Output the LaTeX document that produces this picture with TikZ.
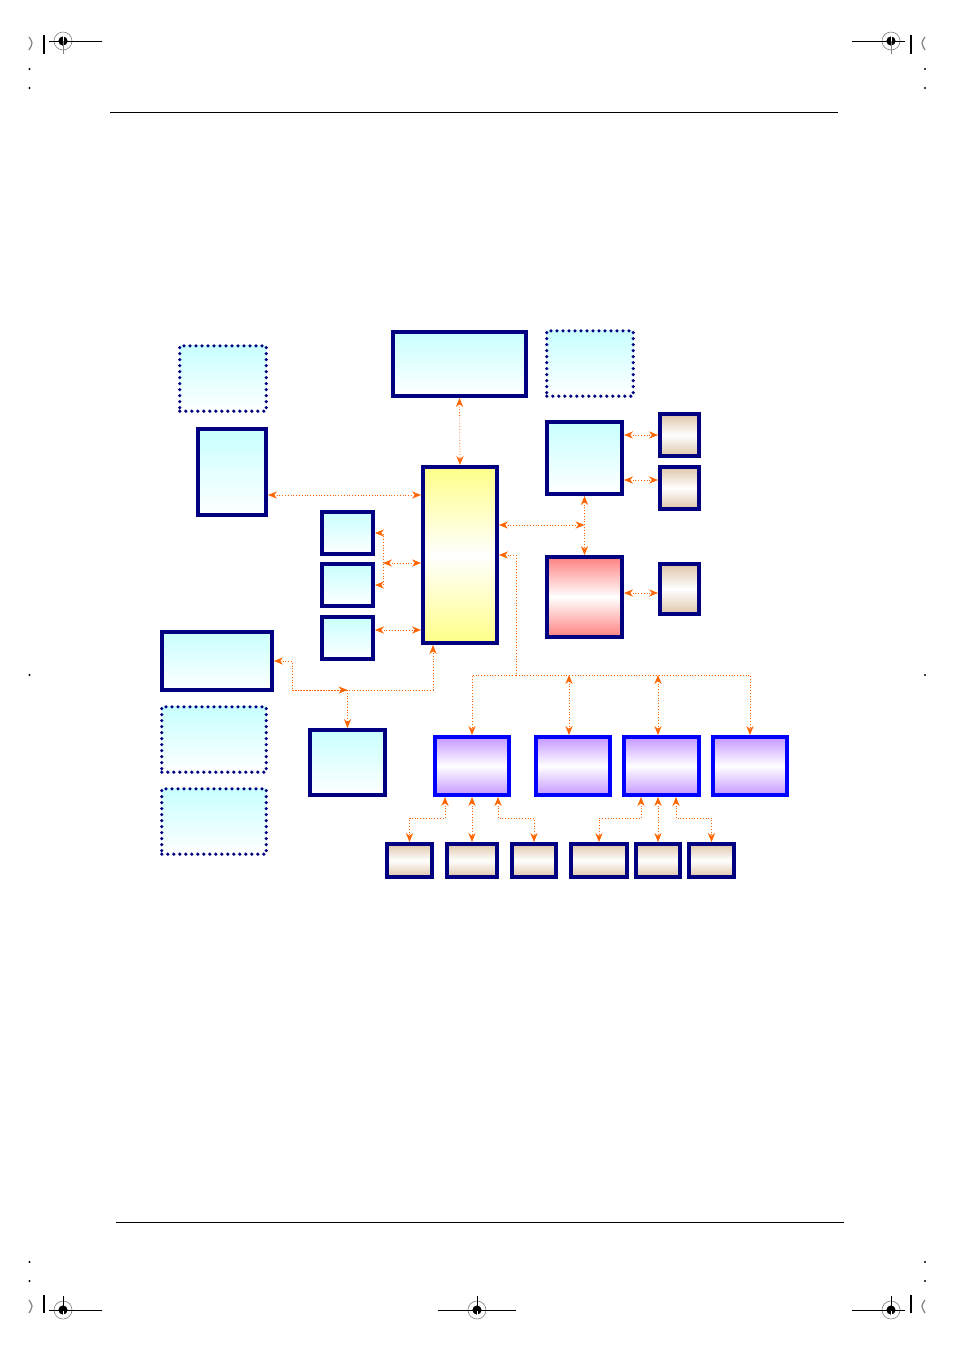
\documentclass[tikz,border=0pt]{standalone}
\usetikzlibrary{arrows.meta}

\definecolor{navy}{RGB}{0,0,128}
\definecolor{cyantop}{RGB}{200,255,255}
\definecolor{yeltop}{RGB}{255,255,136}
\definecolor{pinktop}{RGB}{255,128,128}
\definecolor{tantop}{RGB}{222,196,168}
\definecolor{purtop}{RGB}{196,150,255}
\definecolor{linkor}{RGB}{255,102,0}

\begin{document}
\begin{tikzpicture}[x=0.5pt,y=-0.5pt,
  >={Stealth[length=4.5pt,width=3.6pt]},
  sz/.style 2 args={minimum width=#1*0.5pt-1.8pt,minimum height=#2*0.5pt-1.8pt},
  box/.style={draw=navy,line width=1.8pt,inner sep=0pt},
  cyanbox/.style={box,top color=cyantop,bottom color=white},
  dotbox/.style={cyanbox,dash pattern=on 0pt off 3pt,line cap=round},
  yelbox/.style={box,top color=yeltop,bottom color=yeltop,middle color=white},
  pinkbox/.style={box,top color=pinktop,bottom color=pinktop,middle color=white},
  tanbox/.style={box,top color=tantop,bottom color=tantop,middle color=white},
  purbox/.style={box,draw=blue,top color=purtop,bottom color=purtop,middle color=white},
  link/.style={draw=linkor,line width=0.4pt,densely dotted},
  regmark/.pic={
    \draw[gray,line width=0.3pt] (0,0) circle (4.5pt);
    \fill (0,0) circle (2.3pt);
    \draw[white,line width=0.4pt] (-2.3pt,0) -- (2.3pt,0) (0,-2.3pt) -- (0,2.3pt);
  }]
\useasboundingbox (0,0) rectangle (954,1351);

% page frame
\draw[line width=0.5pt] (110,112) -- (838,112);
\draw[line width=0.5pt] (116,1222) -- (844,1222);

% printer marks
\pic at (63,41) {regmark};
\pic at (891,41) {regmark};
\pic at (63,1310) {regmark};
\pic at (477,1310) {regmark};
\pic at (891,1310) {regmark};
\draw[line width=0.5pt] (49,41) -- (102,41) (852,41) -- (905,41);
\draw[line width=0.5pt] (49,1310) -- (102,1310) (852,1310) -- (905,1310) (438,1310) -- (516,1310);
\draw[gray,line width=0.3pt] (63,41) -- (63,54) (891,41) -- (891,54);
\draw[line width=0.4pt] (63,1296) -- (63,1310) (891,1296) -- (891,1310) (477,1296) -- (477,1310);
\draw[line width=0.7pt] (44,35) -- (44,54) (911,35) -- (911,54);
\draw[line width=0.7pt] (44,1295) -- (44,1313) (911,1295) -- (911,1313);
\draw[gray,line width=0.6pt] (29,37) .. controls (33,43) .. (29,50);
\draw[gray,line width=0.6pt] (925,37) .. controls (921,43) .. (925,50);
\draw[gray,line width=0.6pt] (29,1300) .. controls (33,1306) .. (29,1313);
\draw[gray,line width=0.6pt] (925,1300) .. controls (921,1306) .. (925,1313);
\foreach \yy in {69,88,675,1262,1281} {
  \fill (29.5,\yy) circle (0.6pt);
  \fill (925,\yy) circle (0.6pt);
}

% boxes
\node[dotbox,sz={90}{69}] (dotTL) at (223,378.5) {};
\node[cyanbox,sz={72}{90}] (tallL) at (232,472) {};
\node[cyanbox,sz={137}{68}] (topbox) at (459.5,364) {};
\node[dotbox,sz={90}{69}] (dotTR) at (590,363.5) {};
\node[yelbox,sz={78}{180}] (hub) at (460,555) {};
\node[cyanbox,sz={79}{76}] (side) at (584.5,458) {};
\node[tanbox,sz={43}{46}] (tanA) at (679.5,435) {};
\node[tanbox,sz={43}{46}] (tanB) at (679.5,488) {};
\node[pinkbox,sz={79}{84}] (pink) at (584.5,597) {};
\node[tanbox,sz={43}{54}] (tanC) at (679.5,589) {};
\node[cyanbox,sz={55}{46}] (sA) at (347.5,533) {};
\node[cyanbox,sz={55}{46}] (sB) at (347.5,585) {};
\node[cyanbox,sz={55}{46}] (sC) at (347.5,638) {};
\node[cyanbox,sz={114}{62}] (wideL) at (217,661) {};
\node[dotbox,sz={108}{69}] (dotL1) at (214,739.5) {};
\node[dotbox,sz={108}{69}] (dotL2) at (214,821.5) {};
\node[cyanbox,sz={79}{69}] (lowC) at (347.5,762.5) {};
\node[purbox,sz={78}{62}] (pA) at (472,766) {};
\node[purbox,sz={78}{62}] (pB) at (573,766) {};
\node[purbox,sz={79}{62}] (pC) at (661.5,766) {};
\node[purbox,sz={78}{62}] (pD) at (750,766) {};
\node[tanbox,sz={49}{37}] (bA) at (409.5,860.5) {};
\node[tanbox,sz={54}{37}] (bB) at (472,860.5) {};
\node[tanbox,sz={48}{37}] (bC) at (534,860.5) {};
\node[tanbox,sz={60}{37}] (bD) at (599,860.5) {};
\node[tanbox,sz={48}{37}] (bE) at (658,860.5) {};
\node[tanbox,sz={49}{37}] (bF) at (711.5,860.5) {};

% junctions
\coordinate (sJ) at (383,563);
\coordinate (kneeL) at (292,690);
\coordinate (lowJ) at (lowC.north |- 0,690);
\coordinate (tap) at (516,675);
\coordinate (busL) at (pA.north |- 0,675);

% links round the hub
\draw[link,<->] (topbox.south) -- (hub.north);
\draw[link,<->] (tallL.east |- 0,495) -- (hub.west |- 0,495);
\draw[link,<->] (sA.east) -| (sJ) |- (sB.east);
\draw[link,<->] (sJ) -- (hub.west |- sJ);
\draw[link,<->] (sC.east |- 0,630) -- (hub.west |- 0,630);
\draw[link,<->] (wideL.east) -| (kneeL) -| (hub.south -| 433,0);
\draw[link,->] (kneeL) -- (lowJ);
\draw[link,->] (lowJ) -- (lowC.north);
\draw[link,<->] (hub.east |- 0,525) -- (side.south |- 0,525);
\draw[link,<->] (side.south) -- (pink.north);
\draw[link,<->] (side.east |- tanA.west) -- (tanA.west);
\draw[link,<->] (side.east |- 0,480) -- (tanB.west |- 0,480);
\draw[link,<->] (pink.east |- 0,593) -- (tanC.west |- 0,593);

% bus to the lower row
\draw[link,<->] (hub.east |- 0,555) -| (tap) -- (busL) -- (pA.north);
\draw[link,->] (tap) -| (pD.north);
\draw[link,<->] (569,675) -- (pB.north -| 569,0);
\draw[link,<->] (658,675) -- (pC.north -| 658,0);

% bottom row
\draw[link,<->] (pA.south -| 445,0) |- (bA.north |- 0,818) -- (bA.north);
\draw[link,<->] (pA.south) -- (bB.north);
\draw[link,<->] (pA.south -| 498,0) |- (bC.north |- 0,818) -- (bC.north);
\draw[link,<->] (pC.south -| 641,0) |- (bD.north |- 0,818) -- (bD.north);
\draw[link,<->] (pC.south -| bE.north) -- (bE.north);
\draw[link,<->] (pC.south -| 676,0) |- (bF.north |- 0,818) -- (bF.north);
\end{tikzpicture}
\end{document}
